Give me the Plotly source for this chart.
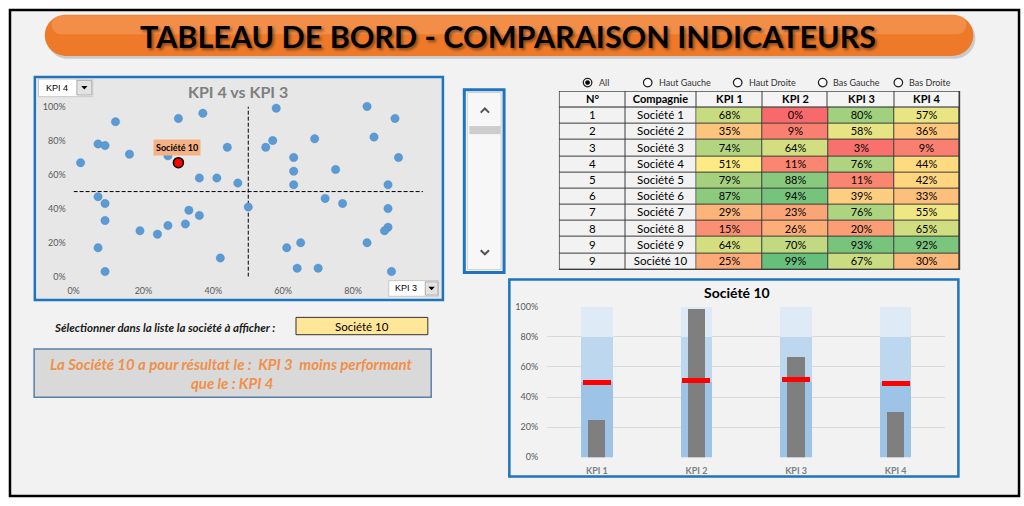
import plotly.graph_objects as go

W, H = 1024, 506


def px(x):
    return x / W


def py(y):
    return 1 - y / H


# ---------------- data ----------------
scatter_x = [2, 7, 9, 12, 16, 27, 30, 37, 36, 41, 44, 47, 7, 9, 9, 7, 9, 19, 24, 27, 32, 33, 36, 42,
             50, 58, 84, 92, 86, 69, 57, 55, 63, 63, 75, 93, 63, 90, 72, 77, 90, 90, 89, 84, 65, 61, 64, 70, 91]
scatter_y = [67, 78, 77, 91, 72, 71, 93, 96, 58, 58, 76, 55, 47, 43, 33, 17, 3, 27, 25, 30, 31, 39, 36, 11,
             41, 99, 100, 93, 82, 81, 80, 76, 70, 62, 63, 70, 54, 54, 46, 43, 40, 29, 27, 20, 20, 17, 5, 5, 3]
sel_company = "Société 10"
sel_x = [30]
sel_y = [67]
avg_x = 50
avg_y = 50
x_kpi = "KPI 3"
y_kpi = "KPI 4"

numbers = [1, 2, 3, 4, 5, 6, 7, 8, 9, 9]
companies = ["Société 1", "Société 2", "Société 3", "Société 4", "Société 5",
             "Société 6", "Société 7", "Société 8", "Société 9", "Société 10"]
kpi_names = ["KPI 1", "KPI 2", "KPI 3", "KPI 4"]
kpi1 = [68, 35, 74, 51, 79, 87, 29, 15, 64, 25]
kpi2 = [0, 9, 64, 11, 88, 94, 23, 26, 70, 99]
kpi3 = [80, 58, 3, 76, 11, 39, 76, 20, 93, 67]
kpi4 = [57, 36, 9, 44, 42, 33, 55, 65, 92, 30]
header = ["N°", "Compagnie"] + kpi_names

bullet_actual = [25, 99, 67, 30]
bullet_target = [50, 51, 52, 49]
band_low = [50, 50, 50, 50]
band_mid = [80, 80, 80, 80]
band_max = [100, 100, 100, 100]

pct_ticks = [0, 20, 40, 60, 80, 100]
pct_labels = ["0%", "20%", "40%", "60%", "80%", "100%"]

radio_labels = ["All", "Haut Gauche", "Haut Droite", "Bas Gauche", "Bas Droite"]

title_text = "TABLEAU DE BORD - COMPARAISON INDICATEURS"
scatter_title = f"{y_kpi} vs {x_kpi}"
select_prompt = "Sélectionner dans la liste la société à afficher :"
msg_line1 = "La Société 10 a pour résultat le :\u00a0 KPI 3\u00a0 moins performant"
msg_line2 = "que le : KPI 4"

FONT = "Lato, 'Open Sans', sans-serif"

fig = go.Figure()

# ---------------- scatter (KPI 4 vs KPI 3) ----------------
fig.add_trace(go.Scatter(x=[0, 100], y=[avg_y, avg_y], mode="lines",
                         line=dict(color="black", width=1, dash="4px,2px"),
                         xaxis="x", yaxis="y", hoverinfo="skip"))
fig.add_trace(go.Scatter(x=[avg_x, avg_x], y=[0, 100], mode="lines",
                         line=dict(color="black", width=1, dash="4px,2px"),
                         xaxis="x", yaxis="y", hoverinfo="skip"))
fig.add_trace(go.Scatter(x=scatter_x, y=scatter_y, mode="markers",
                         marker=dict(color="#5b9bd5", size=8.5,
                                     line=dict(color="rgba(70,120,170,0.5)", width=0.5)),
                         xaxis="x", yaxis="y", cliponaxis=False))
fig.add_trace(go.Scatter(x=sel_x, y=sel_y, mode="markers",
                         marker=dict(color="#ff0000", size=10, line=dict(color="black", width=1.5)),
                         xaxis="x", yaxis="y", cliponaxis=False))

# ---------------- bullet chart ----------------
mid_h = [m - l for m, l in zip(band_mid, band_low)]
max_h = [m - l for m, l in zip(band_max, band_mid)]
fig.add_trace(go.Bar(x=kpi_names, y=band_low, base=[0] * 4, width=0.316,
                     marker=dict(color="#9dc3e6", line=dict(width=0)), xaxis="x2", yaxis="y2"))
fig.add_trace(go.Bar(x=kpi_names, y=mid_h, base=band_low, width=0.316,
                     marker=dict(color="#bdd7ee", line=dict(width=0)), xaxis="x2", yaxis="y2"))
fig.add_trace(go.Bar(x=kpi_names, y=max_h, base=band_mid, width=0.316,
                     marker=dict(color="#deebf7", line=dict(width=0)), xaxis="x2", yaxis="y2"))
fig.add_trace(go.Bar(x=kpi_names, y=bullet_actual, width=0.173,
                     marker=dict(color="#7f7f7f", line=dict(width=0)), xaxis="x2", yaxis="y2"))
TARGET_THICK = 3.2
fig.add_trace(go.Bar(x=kpi_names, y=[TARGET_THICK] * 4,
                     base=[t - TARGET_THICK / 2 for t in bullet_target], width=0.28,
                     marker=dict(color="#ff0000", line=dict(width=0)), xaxis="x2", yaxis="y2"))

# ---------------- table (heatmaps) ----------------
col_edges = [0, 66, 137.6, 204, 270, 336.6, 402.6]
row_edges = list(range(12))
rows_kpi = [[kpi1[i], kpi2[i], kpi3[i], kpi4[i]] for i in range(10)]
rows_kpi_txt = [[f"{v}%" for v in r] for r in rows_kpi]

fig.add_trace(go.Heatmap(z=[[0] * 6], x=col_edges, y=row_edges[:2],
                         text=[header], texttemplate="%{text}",
                         textfont=dict(family=FONT, size=11, color="black", weight="bold"),
                         colorscale=[[0, "#f4f4f4"], [1, "#f4f4f4"]], zmin=0, zmax=1,
                         showscale=False, xgap=1, ygap=1, xaxis="x3", yaxis="y3", hoverinfo="skip"))
fig.add_trace(go.Heatmap(z=[[0, 0] for _ in range(10)], x=col_edges[:3], y=row_edges[1:],
                         text=[[str(n), c] for n, c in zip(numbers, companies)], texttemplate="%{text}",
                         textfont=dict(family=FONT, size=11.5, color="black"),
                         colorscale=[[0, "#f2f2f2"], [1, "#f2f2f2"]], zmin=0, zmax=1,
                         showscale=False, xgap=1, ygap=1, xaxis="x3", yaxis="y3", hoverinfo="skip"))
fig.add_trace(go.Heatmap(z=rows_kpi, x=col_edges[2:], y=row_edges[1:],
                         text=rows_kpi_txt, texttemplate="%{text}",
                         textfont=dict(family=FONT, size=11, color="black"),
                         colorscale=[[0, "#f8696b"], [0.5, "#ffeb84"], [1, "#63be7b"]], zmin=0, zmax=100,
                         showscale=False, xgap=1, ygap=1, xaxis="x3", yaxis="y3", hoverinfo="skip"))

# ---------------- shapes ----------------
shapes = []


def rect(x0, y0, x1, y1, fill, line_color=None, lw=0, layer="below", opacity=1):
    shapes.append(dict(type="rect", xref="paper", yref="paper",
                       x0=px(x0), x1=px(x1), y0=py(y1), y1=py(y0),
                       fillcolor=fill, opacity=opacity, layer=layer,
                       line=dict(color=line_color or "rgba(0,0,0,0)", width=lw)))


def pt(p):
    return f"{px(p[0]):.5f},{py(p[1]):.5f}"


def poly(points, fill=None, line_color=None, lw=0, layer="below"):
    s = "M " + pt(points[0]) + "".join(" L " + pt(p) for p in points[1:])
    if fill:
        s += " Z"
    shapes.append(dict(type="path", xref="paper", yref="paper", path=s,
                       fillcolor=fill or "rgba(0,0,0,0)", layer=layer,
                       line=dict(color=line_color or "rgba(0,0,0,0)", width=lw)))


def pill(x0, y0, x1, y1, fill, opacity=1):
    r = (y1 - y0) / 2
    k = 0.5523 * r
    s = ("M " + pt((x0 + r, y0)) + " L " + pt((x1 - r, y0))
         + " C " + pt((x1 - r + k, y0)) + " " + pt((x1, y0 + r - k)) + " " + pt((x1, y0 + r))
         + " C " + pt((x1, y0 + r + k)) + " " + pt((x1 - r + k, y1)) + " " + pt((x1 - r, y1))
         + " L " + pt((x0 + r, y1))
         + " C " + pt((x0 + r - k, y1)) + " " + pt((x0, y0 + r + k)) + " " + pt((x0, y0 + r))
         + " C " + pt((x0, y0 + r - k)) + " " + pt((x0 + r - k, y0)) + " " + pt((x0 + r, y0)) + " Z")
    shapes.append(dict(type="path", xref="paper", yref="paper", path=s, fillcolor=fill,
                       opacity=opacity, layer="below", line=dict(width=0)))


def circle(cx, cy, r, fill, line_color, lw):
    shapes.append(dict(type="circle", xref="paper", yref="paper",
                       x0=px(cx - r), x1=px(cx + r), y0=py(cy + r), y1=py(cy - r),
                       fillcolor=fill, layer="above", line=dict(color=line_color, width=lw)))


# main frame
rect(4, 4, 1019, 501, "#f2f2f2", "black", 2.5)
# title pill with shadow and gloss
pill(41, 12, 975, 54, "#9a9a9a", opacity=0.45)
pill(39, 9, 973, 51, "#ee7a29")
pill(46, 9.5, 966, 29, "#f7ad78", opacity=0.4)
# scatter box
rect(29, 72.5, 439.5, 300.5, "#e7e7e7", "#1f74c0", 2.5)
# dropdowns
rect(32.7, 74.7, 87.3, 92.7, "white", "#c8c8c8", 1)
rect(71.3, 76, 86.3, 91, "#e3e3e3", "#adadad", 1)
poly([(75.6, 81.8), (82, 81.8), (78.8, 85.3)], fill="black")
rect(385, 280.7, 435, 296.7, "white", "#c8c8c8", 1)
rect(421.7, 282, 434.5, 295.5, "#e3e3e3", "#adadad", 1)
poly([(424.9, 287), (431.3, 287), (428.1, 290.5)], fill="black")
# scrollbar
rect(461, 85.5, 501, 272.5, "#f7f7f7", "#1f74c0", 3)
rect(464, 88.5, 498, 269.5, "#f7f7f7", "#cfcfcf", 1)
rect(466, 122.7, 497.7, 131, "#cdcdcd")
poly([(477.5, 109), (481.7, 104.8), (485.9, 109)], line_color="#555555", lw=2)
poly([(477.5, 249.6), (481.7, 253.8), (485.9, 249.6)], line_color="#555555", lw=2)
# table border background
rect(556.2, 86.8, 959.8, 269.8, "#3c3c3c")
# bullet box
rect(506.3, 279.7, 958, 481, "#f2f2f2", "#1f74c0", 2.5)
# selector and message boxes
rect(291.7, 318.3, 424.3, 336, "#ffe699", "#333333", 1)
rect(28.3, 350.7, 427.7, 400, "#d9d9d9", "#5b7fa6", 1.5)

# radio buttons
radio_cx = [585, 645.5, 736, 821.5, 897.6]
radio_tx = [594.3, 655, 745, 830, 906.7]
for i, cx in enumerate(radio_cx):
    circle(cx, 78.3, 4.3, "white", "#222222", 1.3)
    if i == 0:
        circle(cx, 78.3, 2.2, "black", "black", 0.5)

# ---------------- annotations ----------------
ann = []


def text(x, y, s, size, color="black", bold=False, italic=False, xanchor="center", family=FONT, shadow=None):
    f = dict(family=family, size=size, color=color)
    if bold:
        f["weight"] = "bold"
    if italic:
        f["style"] = "italic"
    if shadow:
        f["shadow"] = shadow
    ann.append(dict(xref="paper", yref="paper", x=px(x), y=py(y), text=s, showarrow=False,
                    xanchor=xanchor, yanchor="middle", font=f))


text(505, 30.5, title_text, 30.5, bold=True, shadow="2px 2px 3px rgba(0,0,0,0.45)")
text(233, 87, scatter_title, 16, color="#7f7f7f", bold=True)
text(38, 83.7, y_kpi, 9, xanchor="left", family="'Liberation Sans', Arial, sans-serif")
text(389, 288.7, x_kpi, 9, xanchor="left", family="'Liberation Sans', Arial, sans-serif")
for lab, tx in zip(radio_labels, radio_tx):
    text(tx, 78.3, lab, 9, color="#333333", xanchor="left")
text(735.8, 293, sel_company, 14, bold=True)
text(46.7, 328.5, select_prompt, 11.5, color="#1a1a1a", bold=True, italic=True, xanchor="left")
text(358, 327.2, sel_company, 11.5)
text(227, 366, msg_line1, 15, color="#f0904a", bold=True, italic=True)
text(227, 385, msg_line2, 15, color="#f0904a", bold=True, italic=True)

ann.append(dict(xref="x", yref="y", x=sel_x[0], y=sel_y[0], yshift=15.5, xshift=-1,
                text=sel_company, showarrow=False, bgcolor="#f4b183", borderpad=2,
                font=dict(family=FONT, size=9, color="black", weight="bold")))

fig.update_layout(
    width=W, height=H, autosize=False,
    margin=dict(l=0, r=0, t=0, b=0, pad=0),
    paper_bgcolor="white", plot_bgcolor="rgba(0,0,0,0)",
    showlegend=False, barmode="overlay", bargap=0,
    shapes=shapes, annotations=ann,
    font=dict(family=FONT),
    xaxis=dict(domain=[px(68), px(419.4)], anchor="y", range=[0, 100],
               tickvals=pct_ticks[:-1], ticktext=pct_labels[:-1],
               showgrid=False, zeroline=False, showline=False, ticks="",
               tickfont=dict(size=9, color="#595959"), ticklabelstandoff=7, fixedrange=True),
    yaxis=dict(domain=[py(276.7), py(102.7)], anchor="x", range=[0, 100],
               tickvals=pct_ticks, ticktext=pct_labels,
               showgrid=False, zeroline=False, showline=False, ticks="",
               tickfont=dict(size=9, color="#595959"), ticklabelstandoff=7, fixedrange=True),
    xaxis2=dict(domain=[px(544.3), px(945)], anchor="y2", type="category", range=[-0.5, 3.5],
                showgrid=False, zeroline=False, showline=False, ticks="",
                tickfont=dict(size=9, color="#7f7f7f", weight="bold"), ticklabelstandoff=7, fixedrange=True),
    yaxis2=dict(domain=[py(461.3), py(307.3)], anchor="x2", range=[0, 100],
                tickvals=pct_ticks, ticktext=pct_labels,
                showgrid=True, gridcolor="#d9d9d9", gridwidth=1, zeroline=False,
                showline=False, ticks="", tickfont=dict(size=9, color="#595959"),
                ticklabelstandoff=8, fixedrange=True),
    xaxis3=dict(domain=[px(556.7), px(959.3)], anchor="y3", range=[0, 402.6], visible=False, fixedrange=True),
    yaxis3=dict(domain=[py(269.3), py(87.3)], anchor="x3", range=[11, 0], visible=False, fixedrange=True),
)

fig.write_html("out.html")
